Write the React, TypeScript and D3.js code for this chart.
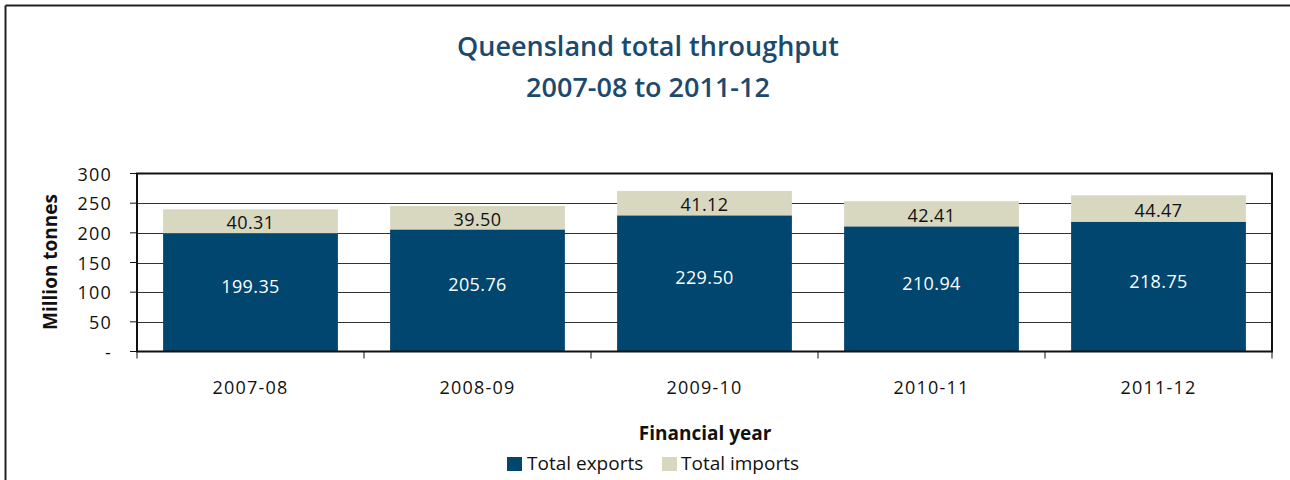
import React from "react";
import * as d3 from "d3";

const categories = ["2007-08", "2008-09", "2009-10", "2010-11", "2011-12"];
const exportsVals = [199.35, 205.76, 229.5, 210.94, 218.75];
const importsVals = [40.31, 39.5, 41.12, 42.41, 44.47];
const yTicks = [0, 50, 100, 150, 200, 250, 300];
const seriesNames = ["Total exports", "Total imports"];

const W = 1290;
const H = 480;
const FONT = "'Open Sans', 'Noto Sans', sans-serif";
const EXP_COLOR = "#00466e";
const IMP_COLOR = "#d8d7bf";
const TITLE_COLOR = "#1b4a6e";

export default function App() {
  const left = 137, right = 1272, top = 173.5, bottom = 351.5;
  const x = d3.scaleBand<string>().domain(categories).range([left, right]).paddingInner(0.23).paddingOuter(0.115);
  const xb = d3.scaleBand<string>().domain(categories).range([left, right]);
  const y = d3.scaleLinear().domain([0, 300]).range([bottom, top]);

  return (
    <svg width={W} height={H} style={{ position: "absolute", left: 0, top: 0, background: "#fff" }} fontFamily={FONT}>
      {/* outer frame (left and top visible) */}
      <line x1={5.5} y1={5.5} x2={W} y2={5.5} stroke="#222" strokeWidth={2} />
      <line x1={5.5} y1={5.5} x2={5.5} y2={H} stroke="#222" strokeWidth={2} />

      {/* title */}
      <text x={648} y={56} textAnchor="middle" fontSize={27} fontWeight={600} fill={TITLE_COLOR}>Queensland total throughput</text>
      <text x={648} y={97} textAnchor="middle" fontSize={27} fontWeight={600} fill={TITLE_COLOR}>2007-08 to 2011-12</text>

      {/* gridlines */}
      {yTicks.filter(t => t > 0 && t < 300).map(t => (
        <line key={t} x1={left} x2={right} y1={Math.round(y(t)) + 0.5} y2={Math.round(y(t)) + 0.5} stroke="#333" strokeWidth={1} />
      ))}

      {/* bars */}
      {categories.map((c, i) => {
        const bx = x(c)!;
        const bw = x.bandwidth();
        const e = exportsVals[i];
        const im = importsVals[i];
        return (
          <g key={c}>
            <rect x={bx} y={y(e)} width={bw} height={y(0) - y(e)} fill={EXP_COLOR} />
            <rect x={bx} y={y(e + im)} width={bw} height={y(e) - y(e + im)} fill={IMP_COLOR} />
            <text x={bx + bw / 2} y={(y(0) + y(e)) / 2 - 6} textAnchor="middle" dominantBaseline="central" fontSize={18} letterSpacing={0.4} fill="#fff">{e.toFixed(2)}</text>
            <text x={bx + bw / 2} y={(y(e) + y(e + im)) / 2 + 1} textAnchor="middle" dominantBaseline="central" fontSize={18} letterSpacing={0.4} fill="#111">{im.toFixed(2)}</text>
          </g>
        );
      })}

      {/* plot frame */}
      <rect x={left} y={top} width={right - left} height={bottom - top} fill="none" stroke="#111" strokeWidth={2} />

      {/* y ticks */}
      {yTicks.map(t => (
        <g key={t}>
          <line x1={130} x2={left} y1={y(t)} y2={y(t)} stroke="#111" strokeWidth={1} />
          <text x={112} y={y(t)} textAnchor="end" dominantBaseline="central" fontSize={18} letterSpacing={1.2} fill="#111">{t === 0 ? "-" : t}</text>
        </g>
      ))}

      {/* x ticks */}
      {categories.map(c => (
        <line key={"t" + c} x1={xb(c)!} x2={xb(c)!} y1={bottom} y2={bottom + 7} stroke="#111" strokeWidth={1} />
      ))}
      <line x1={right} x2={right} y1={bottom} y2={bottom + 7} stroke="#111" strokeWidth={1} />
      {categories.map(c => (
        <text key={"l" + c} x={xb(c)! + xb.bandwidth() / 2} y={394} textAnchor="middle" fontSize={18} letterSpacing={1.2} fill="#111">{c}</text>
      ))}

      {/* axis titles */}
      <text x={705} y={440} textAnchor="middle" fontSize={19} fontWeight="bold" fill="#111">Financial year</text>
      <text transform={`translate(50,262) rotate(-90)`} textAnchor="middle" dominantBaseline="central" fontSize={19} fontWeight="bold" fill="#111">Million tonnes</text>

      {/* legend */}
      <rect x={507} y={457} width={15} height={14} fill={EXP_COLOR} />
      <text x={527} y={470} fontSize={19} fill="#111">{seriesNames[0]}</text>
      <rect x={662} y={457} width={15} height={14} fill={IMP_COLOR} />
      <text x={681} y={470} fontSize={19} fill="#111">{seriesNames[1]}</text>
    </svg>
  );
}
